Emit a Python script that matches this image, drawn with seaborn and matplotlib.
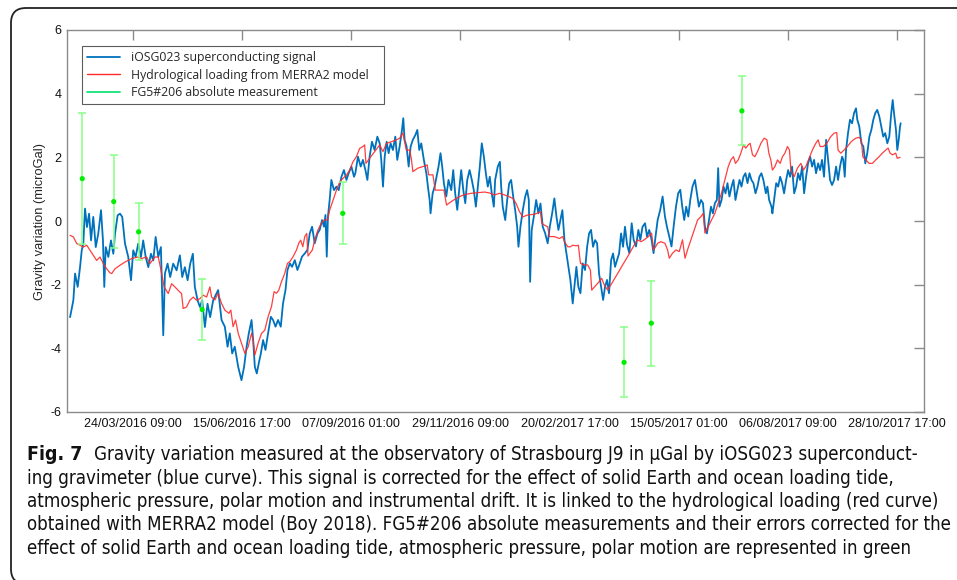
import pandas as pd
import numpy as np
import matplotlib
matplotlib.use('Agg')
import matplotlib.pyplot as plt
import matplotlib.dates as mdates
from matplotlib.lines import Line2D
from matplotlib.patches import PathPatch
from matplotlib.path import Path
from matplotlib.font_manager import FontProperties
from matplotlib import font_manager
import seaborn as sns

sns.set_style('white')
plt.rcParams['font.family'] = ['Liberation Sans', 'DejaVu Sans']
plt.rcParams['axes.unicode_minus'] = False

# time origin, series are given as days after it
T0 = pd.Timestamp('2016-02-01 00:00')

blue_day = [4.6, 7.1, 8.4, 10.4, 12.2, 13.5, 14.7, 16.0, 17.5, 19.1, 20.6, 22.3, 24.2, 26.1, 28.2, 29.7,
            30.7, 31.8, 33.8, 35.8, 37.6, 38.9, 40.9, 42.7, 44.4, 46.5, 49.0, 51.1, 52.8, 54.6, 56.6, 58.7,
            60.4, 62.3, 64.3, 66.3, 68.1, 69.9, 71.9, 73.9, 75.7, 77.0, 79.0, 81.0, 83.3, 85.9, 88.4, 90.2,
            92.2, 94.3, 96.3, 98.3, 99.8, 101.9, 103.7, 105.4, 107.5, 109.5, 111.5, 113.8, 116.4, 117.6,
            120.2, 122.7, 124.8, 126.5, 128.3, 130.3, 132.9, 135.4, 137.4, 139.3, 141.0, 143.1, 144.3,
            145.6, 147.1, 148.6, 150.2, 151.9, 153.7, 155.7, 157.8, 159.5, 161.4, 163.3, 165.4, 167.1,
            169.0, 170.5, 172.3, 174.0, 176.1, 178.1, 179.9, 181.6, 183.7, 185.7, 187.5, 189.3, 191.3,
            193.4, 195.1, 196.9, 198.4, 199.5, 200.5, 201.4, 202.7, 204.0, 206.0, 207.9, 209.6, 211.7,
            213.6, 215.5, 217.2, 219.3, 221.3,
            222.3, 224.3, 226.4, 228.1, 230.0, 231.5, 233.2, 235.0, 237.0, 239.1, 240.9, 242.1, 243.4,
            244.7, 246.2, 247.7, 249.2, 251.0, 252.8, 254.3, 256.1, 257.9, 258.9, 259.9, 261.4, 263.0,
            264.5, 266.2, 268.1, 269.6, 271.1, 272.6, 274.6, 276.5, 277.7, 279.0, 279.7, 281.3, 282.8,
            284.3, 285.8, 287.3, 288.6, 289.9, 291.7, 293.4, 295.5, 297.0, 298.5, 300.1, 301.8, 303.1,
            304.7, 306.2, 307.7, 309.5, 311.2, 312.7, 314.3, 315.8, 317.3, 318.8, 320.4, 321.9, 323.4,
            324.9, 326.4, 328.0,
            329.0, 331.0, 332.6, 333.6, 334.8, 336.7, 338.2, 339.7, 341.2, 342.8, 344.3, 345.8, 346.8,
            348.3, 350.1, 351.9, 353.4, 354.7, 355.7, 356.9, 358.5, 360.3, 362.0, 363.6, 365.3, 367.2,
            369.1, 370.7, 372.5, 374.2, 375.8, 377.3, 378.8, 380.3, 381.9, 383.4, 384.9, 386.4, 388.2,
            389.5, 391.0, 392.5, 394.1, 395.8, 397.6, 399.2, 400.7, 402.2, 403.7, 405.3, 406.8, 408.3,
            409.8, 411.4, 412.9, 414.4, 415.9, 417.5, 419.0, 420.5, 422.0, 423.6, 425.1, 426.6, 428.1,
            429.7, 431.4, 433.2, 434.7, 436.5, 438.3, 439.8, 441.5, 443.4, 444.9, 446.6, 448.4, 449.9,
            451.4, 453.0, 455.0, 456.8, 458.6, 460.1, 461.9, 463.6, 465.2, 467.0, 468.7, 470.3, 471.8,
            473.3, 474.8, 476.4, 477.9, 479.6, 481.5, 483.0, 484.5, 486.1, 487.6, 489.1, 490.6, 492.2,
            493.7, 495.2, 496.7, 498.2, 499.2, 500.2, 501.8, 503.3, 504.8, 506.3, 507.8, 509.4, 510.9,
            512.4, 513.9, 515.5, 517.0, 518.5, 520.0, 521.6, 523.1, 524.6, 526.1, 527.7, 529.2, 530.7,
            532.2, 533.7,
            535.6, 536.8, 538.1, 539.9, 540.6, 541.9, 543.5, 545.0, 546.5, 548.0, 549.5, 551.1, 552.6,
            554.1, 555.6, 557.2, 558.7, 560.2, 561.7, 563.3, 564.8, 566.3, 567.8, 569.4, 570.9, 572.4,
            573.9, 575.5, 577.0, 578.5, 580.0, 581.6, 583.1, 584.6, 586.1, 587.7, 589.2, 590.7, 592.2,
            593.8, 594.7, 595.8, 596.8, 598.3, 599.8, 601.4, 602.9, 604.4, 605.4, 606.9, 608.5, 610.0,
            611.5, 613.0, 614.6, 616.1, 617.6, 619.1, 620.6, 622.2, 623.7, 625.2, 626.7, 628.3, 629.8,
            631.3, 632.4, 633.4, 634.9, 635.9, 637.0, 638.0, 638.5]

blue_val = [-3.02, -2.49, -1.65, -2.07, -1.45, -0.92, -0.71, 0.39, -0.19, 0.23, -0.61, 0.13, -0.82, -0.40,
            0.34, -0.61, -2.07, -0.82, -1.13, -0.61, -1.03, -0.40, 0.18, 0.23, 0.13, -0.71, -1.13, -1.86,
            -0.92, -1.13, -0.71, -1.13, -0.61, -1.13, -1.45, -1.03, -1.24, -0.50, -1.13, -0.82, -3.59, -1.65,
            -1.34, -1.76, -1.34, -1.55, -1.08, -1.76, -1.45, -1.86, -1.34, -1.03, -2.07, -2.49, -2.70, -2.49,
            -3.33, -2.60, -3.02, -2.49, -2.27, -2.17, -3.11, -3.32, -3.95, -3.53, -4.16, -3.95, -4.58, -5.00,
            -4.58, -3.95, -3.53, -3.11, -3.74, -4.58, -4.79, -4.47, -4.16, -3.74, -4.05, -3.53, -3.01, -3.11,
            -3.32, -3.11, -3.32, -2.59, -2.17, -1.54, -1.33, -1.44, -1.23, -1.54, -1.33, -1.12, -1.02, -0.91,
            -0.39, -0.18, -0.70, -0.39, -0.28, 0.03, -0.18, 0.19, -1.12, 0.14, 0.66, 1.29, 0.97, 1.08, 0.97,
            1.39, 1.60, 1.29, 1.50, 1.71, 1.39,
            1.50, 2.02, 1.71, 1.92, 1.60, 1.29, 2.02, 2.49, 2.23, 2.65, 2.44, 1.92, 1.08, 2.02, 2.49, 2.13,
            2.44, 2.23, 2.65, 1.92, 2.34, 2.86, 3.23, 2.55, 2.34, 1.71, 2.34, 2.55, 2.70, 2.86, 2.23, 2.44,
            1.92, 1.50, 1.08, 0.66, 0.24, 0.87, 1.08, 1.39, 1.71, 2.13, 1.71, 1.18, 0.77, 1.29, 0.97, 1.60,
            0.87, 0.35, 1.08, 1.60, 0.97, 0.56, 1.29, 1.60, 1.29, 0.97, 0.45, 1.08, 1.71, 2.44, 2.02, 1.50,
            1.08, 1.39, 0.87, 0.45,
            1.29, 1.71, 1.86, 1.08, 0.45, 0.03, 0.66, 1.18, 1.29, 0.76, 0.34, -0.18, -0.81, -0.18, 0.34,
            0.76, 0.97, 0.66, -1.91, -0.28, 0.13, 0.66, 0.24, 0.55, -0.18, -0.39, -0.70, -0.18, 0.24, 0.71,
            0.13, -0.28, 0.03, 0.34, -0.60, -1.02, -1.44, -1.85, -2.59, -2.06, -1.44, -2.06, -2.27, -1.33,
            -1.54, -0.81, -0.39, -0.28, -0.81, -0.60, -0.70, -1.65, -2.06, -2.48, -2.06, -1.85, -2.27, -1.23,
            -1.02, -1.44, -1.23, -1.02, -0.39, -0.81, -0.18,
            -0.75, -1.01, -0.07, -0.59, -0.80, -0.28, -0.59, -0.18, -0.07, -0.49, -0.28, -0.59, -1.01, -0.49,
            0.03, 0.35, 0.77, 0.14, -0.18, -0.49, -0.80, -0.18, 0.45, 0.87, 0.98, 0.45, 0.03, 0.45, 0.14,
            0.66, 1.08, 1.29, 0.87, 0.45, 0.66, 0.56, -0.18, -0.39, 0.03, 0.45, 0.24, 0.56, 0.66, 1.66, 0.45,
            0.66, 1.08, 0.87, 1.19, 0.77, 1.08, 1.29, 0.66, 0.98, 1.29, 1.08, 1.39, 1.50, 1.19, 1.50, 1.29,
            1.19, 0.87, 1.08, 1.39, 1.50, 1.29,
            0.87, 1.08, 0.66, 0.45, 0.24, 0.66, 1.19, 1.08, 1.39, 1.19, 0.87, 1.29, 1.60, 1.39, 1.71, 0.87,
            1.08, 1.50, 1.29, 1.71, 0.87, 1.39, 1.81, 2.02, 1.71, 1.92, 1.50, 1.81, 1.60, 1.92, 1.39, 2.55,
            1.92, 1.29, 1.13, 1.29, 1.71, 1.29, 1.71, 2.02, 1.92, 1.39, 2.23, 2.76, 3.18, 3.07, 3.39, 3.54,
            3.18, 2.97, 2.44, 2.34, 1.81, 2.13, 2.65, 2.86, 3.18, 3.39, 3.49, 3.28, 2.97, 2.65, 2.76, 2.44,
            2.65, 3.39, 3.80, 3.39, 2.86, 2.23, 2.55, 2.97, 3.07]

red_day = [4.6, 7.1, 9.7, 12.2, 14.7, 17.3, 19.8, 22.3, 24.9, 27.4, 30.0, 32.5, 35.1, 36.4, 38.9, 42.7,
           46.5, 51.6, 56.6, 59.2, 63.0, 65.5, 69.4, 71.9, 74.5, 76.4, 79.5, 82.1, 84.6, 87.1, 89.7, 90.9,
           93.5, 96.0, 98.6, 101.1, 103.7, 106.2, 108.8, 111.3, 112.6, 115.1, 117.6, 120.2, 122.7, 125.8,
           127.3, 129.0, 130.9, 132.9, 135.4, 138.0, 140.5, 143.1, 144.3, 145.6, 148.1, 150.7, 153.2,
           155.7, 158.3, 160.3, 162.1, 163.9, 165.9, 168.4, 170.5, 172.3, 174.8, 177.4, 179.1, 180.6,
           182.2, 183.7, 185.2, 186.2, 189.5, 191.3, 193.8, 196.4, 198.4, 201.0, 202.7, 205.3, 207.9,
           210.4, 212.9, 215.5, 218.0, 220.5, 223.1, 225.6, 228.1, 229.4, 230.4, 233.2, 237.0, 240.9,
           243.4, 246.0, 249.8, 253.6, 256.1, 258.6, 261.2, 263.7, 265.0, 266.2, 270.0, 273.9, 277.2,
           278.2, 281.5, 283.3, 286.6, 289.9, 291.9, 295.5, 299.3, 303.1, 306.9, 310.7, 315.8, 320.9,
           324.7, 328.5, 332.3, 336.1, 339.9, 342.5, 345.0, 347.6, 350.1, 353.9, 359.0, 362.0, 363.6,
           364.6, 366.6, 369.1, 370.4, 374.2, 378.0, 380.6, 381.9, 384.4, 386.4, 388.2, 390.8, 392.5,
           394.1, 396.6, 399.6, 401.7, 402.7, 407.2, 410.3, 412.3, 414.9, 418.7, 422.5, 426.3, 430.1,
           435.2, 437.7, 440.3, 442.8, 445.9, 448.4, 449.9, 453.0, 455.5, 458.6, 460.6, 461.9, 464.4,
           467.0, 469.5, 472.0, 473.9, 475.8, 478.4, 480.9, 483.5, 486.1, 487.8, 489.1, 491.6, 494.1,
           496.7, 499.2, 501.7, 504.3, 506.9, 508.9, 510.9, 512.4, 514.5, 516.5, 518.5, 520.3, 522.1,
           523.6, 525.4, 527.2, 529.2, 531.8, 534.3, 536.4, 537.9, 539.4, 540.6, 542.5, 544.5, 546.5,
           548.3, 550.1, 552.1, 553.6, 554.7, 557.2, 559.7, 562.3, 564.3, 566.1, 568.6, 571.1, 573.7,
           575.5, 577.0, 579.5, 582.1, 585.1, 587.7, 589.7, 590.7, 592.8, 595.3, 597.8, 600.9, 604.2,
           606.7, 608.5, 609.6, 611.9, 614.4, 616.9, 619.5, 622.0, 624.5, 627.1, 628.9, 630.4, 632.2,
           634.7, 635.9, 638.0]

red_val = [-0.45, -0.50, -0.71, -0.76, -0.82, -0.76, -0.92, -1.08, -1.24, -1.13, -1.34, -1.50, -1.63, -1.65,
           -1.50, -1.39, -1.29, -1.18, -1.13, -1.18, -1.13, -1.34, -1.13, -1.13, -1.65, -2.07, -2.28, -1.97,
           -2.07, -2.18, -2.28, -2.75, -2.70, -2.49, -2.39, -2.49, -2.44, -2.33, -2.39, -2.07, -2.39, -2.48,
           -2.27, -2.59, -2.80, -2.90, -2.80, -3.32, -3.11, -3.53, -3.84, -4.16, -3.95, -3.53, -3.74, -4.21,
           -3.84, -3.53, -3.43, -3.01, -2.69, -2.22, -2.27, -2.17, -1.91, -1.65, -1.33, -1.28, -1.12, -0.91,
           -0.70, -0.60, -0.81, -0.49, -0.39, -1.10, -0.91, -0.60, -0.28, -0.07, 0.03, 0.03, 0.34, 0.66,
           0.97, 1.23, 1.34, 1.44, 1.60, 1.86, 2.02, 2.28, 2.34, 2.39, 1.81, 1.97, 2.18, 2.39, 2.18, 2.44,
           2.49, 2.55, 2.60, 2.76, 2.23, 2.23, 1.97, 1.55, 1.66, 1.71, 1.76, 1.45, 1.45, 0.97, 0.97, 0.97,
           0.50, 0.61, 0.71, 0.79, 0.84, 0.87, 0.89, 0.91, 0.88, 0.82, 0.87, 0.82, 0.76, 0.71, 0.55, 0.29,
           0.13, 0.19, 0.21, 0.26, 0.29, -0.07, -0.13, -0.18, -0.49, -0.49, -0.55, -0.49, -0.65, -0.81,
           -0.81, -0.76, -0.78, -0.76, -1.33, -1.38, -1.38, -1.54, -2.17, -1.96, -1.80, -2.01, -2.17, -1.91,
           -1.65, -1.38, -1.12, -0.75, -0.59, -0.65, -0.59, -0.49, -0.38, -0.91, -0.70, -0.65, -0.70, -0.91,
           -1.17, -1.01, -0.91, -0.96, -0.59, -1.17, -0.91, -0.59, -0.28, 0.03, 0.14, 0.24, -0.38, -0.18,
           0.03, 0.24, 0.56, 0.87, 1.29, 1.71, 1.92, 2.02, 1.81, 1.92, 2.13, 2.39, 2.29, 2.39, 2.44, 2.08,
           2.02, 2.18, 2.44, 2.60, 2.55, 2.13, 1.92, 1.60, 1.71, 1.92, 1.81, 2.02, 2.13, 2.34, 2.23, 1.60,
           1.39, 1.66, 1.81, 1.60, 1.71, 1.97, 2.23, 2.44, 2.55, 2.34, 2.34, 2.44, 2.65, 2.76, 2.78, 2.23,
           2.13, 2.23, 2.34, 2.50, 2.60, 2.63, 2.55, 2.02, 1.92, 1.81, 1.81, 1.92, 2.02, 2.13, 2.23, 2.29,
           2.13, 2.08, 2.13, 1.97, 2.00]

green_day = [13.9, 37.9, 56.9, 105.4, 212.7, 427.4, 448.2, 517.3]
green_val = [1.33, 0.61, -0.34, -2.78, 0.24, -4.44, -3.21, 3.46]
green_err = [2.06, 1.46, 0.90, 0.95, 0.97, 1.10, 1.33, 1.08]

labels = ['iOSG023 superconducting signal',
          'Hydrological loading from MERRA2 model',
          'FG5#206 absolute measurement']

tick_start = '2016-03-24 09:00'
x_lim = ('2016-02-03 06:00', '2017-11-18 07:00')
y_ticks = [-6, -4, -2, 0, 2, 4, 6]

caption = [
    'Gravity variation measured at the observatory of Strasbourg J9 in \u00b5Gal by iOSG023 superconduct-',
    'ing gravimeter (blue curve). This signal is corrected for the effect of solid Earth and ocean loading tide,',
    'atmospheric pressure, polar motion and instrumental drift. It is linked to the hydrological loading (red curve)',
    'obtained with MERRA2 model (Boy 2018). FG5#206 absolute measurements and their errors corrected for the',
    'effect of solid Earth and ocean loading tide, atmospheric pressure, polar motion are represented in green',
]


def to_time(days):
    return T0 + pd.to_timedelta(np.array(days), unit='D')


def caption_fonts():
    """pick a narrow face for the caption if one is installed"""
    regular, bold = None, None
    for f in font_manager.fontManager.ttflist:
        narrow = ('Narrow' in f.name or 'Condensed' in f.name
                  or f.stretch in ('condensed', 'semi-condensed'))
        if not narrow or f.style != 'normal':
            continue
        w = f.weight if isinstance(f.weight, int) else 400
        if w in (400, 'normal') and regular is None:
            regular = f
        if w == 700 and bold is None:
            bold = f
    if regular is None:
        return FontProperties(family='Open Sans'), FontProperties(family='Open Sans', weight='bold')
    reg = FontProperties(fname=regular.fname)
    bld = FontProperties(fname=bold.fname) if bold is not None else FontProperties(fname=regular.fname, weight='bold')
    return reg, bld


blue_df = pd.DataFrame({'time': to_time(blue_day), 'g': blue_val})
red_df = pd.DataFrame({'time': to_time(red_day), 'g': red_val})
green_df = pd.DataFrame({'time': to_time(green_day), 'g': green_val, 'err': green_err})

BLUE = '#0072bd'
RED = '#ff2a2a'
GREEN_BAR = '#86ff86'
GREEN_PT = '#00ee00'

W, H = 957, 580
fig = plt.figure(figsize=(W / 100, H / 100), dpi=100)
ax = fig.add_axes([67 / W, 1 - 412 / H, (924 - 67) / W, (412 - 30) / H])

sns.lineplot(data=blue_df, x='time', y='g', ax=ax, color=BLUE, lw=1.3,
             estimator=None, sort=False, legend=False)
sns.lineplot(data=red_df, x='time', y='g', ax=ax, color=RED, lw=0.9, alpha=0.9,
             estimator=None, sort=False, legend=False)
ax.errorbar(green_df['time'], green_df['g'], yerr=green_df['err'], fmt='none',
            ecolor=GREEN_BAR, elinewidth=1.1, capsize=2.8, capthick=1.1, zorder=3)
sns.scatterplot(data=green_df, x='time', y='g', ax=ax, color=GREEN_PT, s=14,
                edgecolor='none', zorder=4, legend=False)

ax.set_xlim(pd.Timestamp(x_lim[0]), pd.Timestamp(x_lim[1]))
ax.set_ylim(-6, 6)
ax.set_yticks(y_ticks)
ax.set_xticks(pd.date_range(tick_start, periods=8, freq='2000h'))
ax.xaxis.set_major_formatter(mdates.DateFormatter('%d/%m/%Y %H:%M'))
ax.set_xlabel('')
ax.set_ylabel('Gravity variation (microGal)', fontsize=9.3)
ax.yaxis.set_label_coords(-0.024, 0.5)

for s in ax.spines.values():
    s.set_visible(True)
    s.set_color('#8a8a8a')
    s.set_linewidth(1.0)
ax.tick_params(axis='both', direction='in', length=7, width=1, color='#8a8a8a',
               labelsize=9, labelcolor='#111111', top=True, right=True, pad=4)

handles = [Line2D([], [], color=BLUE, lw=1.3),
           Line2D([], [], color=RED, lw=1.0),
           Line2D([], [], color='#12e47a', lw=1.3)]
leg = ax.legend(handles, labels, loc='upper left', mode='expand',
                bbox_to_anchor=(15 / 857, 0.5, 302 / 857, (412 - 46) / 382 - 0.5),
                prop={'family': 'Open Sans', 'size': 8.8}, frameon=True, fancybox=False,
                edgecolor='#333333', handlelength=2.7, handletextpad=0.9,
                labelspacing=0.36, borderpad=0.42, borderaxespad=0.0)
leg.get_frame().set_linewidth(0.8)

# outer frame: open on the right, rounded on the left corners (pixel units, y down)
left, top, bottom, r = 11, 8, 584, 15
pts_px = [(1000, top), (left + r, top), (left, top), (left, top + r),
          (left, bottom - r), (left, bottom), (left + r, bottom), (1000, bottom)]
codes = [Path.MOVETO, Path.LINETO, Path.CURVE3, Path.CURVE3,
         Path.LINETO, Path.CURVE3, Path.CURVE3, Path.LINETO]
verts = [(x / W, 1 - y / H) for x, y in pts_px]
fig.add_artist(PathPatch(Path(verts, codes), transform=fig.transFigure, fill=False,
                         ec='#222222', lw=1.3, clip_on=False))

# caption, sized so the widest line fits the box
reg_fp, bold_fp = caption_fonts()
renderer = fig.canvas.get_renderer()
cap_size = 12.0
probe = fig.text(0, 0, caption[2], fontproperties=reg_fp, fontsize=cap_size)
for _ in range(4):
    probe.set_fontsize(cap_size)
    width = probe.get_window_extent(renderer).width
    cap_size = cap_size * (948 - 27) / width
probe.remove()
cap_size *= 0.995

bold = fig.text(27 / W, 1 - 459.5 / H, 'Fig. 7', fontproperties=bold_fp, fontsize=cap_size * 1.04,
                color='#111111', va='baseline')
bw = bold.get_window_extent(renderer).width
baselines = [459.5, 483.5, 507, 530.5, 554]
for i, line in enumerate(caption):
    x0 = max(90, 27 + bw + 12) if i == 0 else 27
    fig.text(x0 / W, 1 - baselines[i] / H, line, fontproperties=reg_fp, fontsize=cap_size,
             color='#111111', va='baseline')

fig.savefig('out.png', dpi=100, facecolor='white')
plt.close(fig)
